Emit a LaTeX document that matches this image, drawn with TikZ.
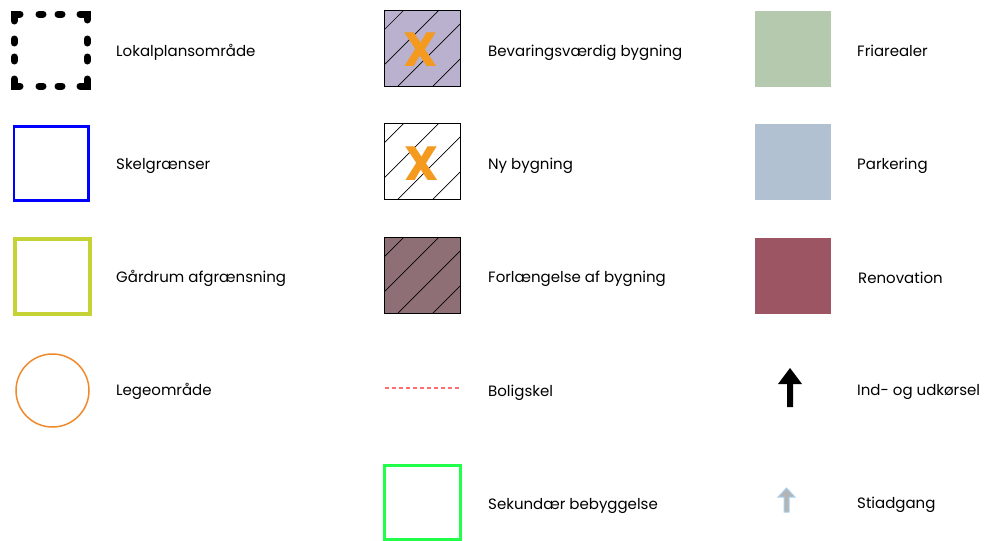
\documentclass[tikz,border=0pt]{standalone}
\usepackage{fontspec}
\setmainfont{Poppins}
\usepackage{tikz}
\usetikzlibrary{arrows.meta}

\definecolor{gaard}{HTML}{C5D336}
\definecolor{lege}{HTML}{F0892A}
\definecolor{lilla}{HTML}{B9B1CD}
\definecolor{brun}{HTML}{8F6F76}
\definecolor{kryds}{HTML}{F39A1F}
\definecolor{boligrod}{HTML}{FF6E6E}
\definecolor{sekgron}{HTML}{22FF4A}
\definecolor{friareal}{HTML}{B5C9AF}
\definecolor{parkering}{HTML}{B1C1D1}
\definecolor{renovation}{HTML}{9C5663}
\definecolor{stigra}{HTML}{B4B4B4}
\definecolor{stiblaa}{HTML}{A8D2F2}

\begin{document}
\begin{tikzpicture}[x=1pt,y=-1pt,
  lbl/.style={anchor=base west,inner sep=0pt,font=\fontsize{15}{18}\selectfont},
  xmark/.style={inner sep=0pt,text=kryds,font=\fontsize{48}{48}\selectfont\bfseries}]
\useasboundingbox (0,0) rectangle (986,541);

% kolonne 1
\draw[line width=7pt,line cap=round]
 (14,21)--(14,14)--(20,14) (39,14)--(43,14) (58,14)--(62,14)
 (80,14)--(87,14)--(87,20) (87,39)--(87,43) (87,57)--(87,61)
 (87,79)--(87,86)--(80,86) (62,86)--(58,86) (43,86)--(39,86)
 (20,86)--(14,86)--(14,79) (14,61)--(14,57) (14,43)--(14,39);
\draw[blue,line width=2.7pt](14,126.5)rectangle(88.5,200.5);
\draw[gaard,line width=3.3pt](15,239)rectangle(90,314);
\draw[lege,line width=1.5pt](52.5,390.5)circle[radius=36.5];

\node[lbl] (lokal) at (116,56) {Lokalplansområde};
\node[lbl] (skel) at (116,169) {Skelgrænser};
\node[lbl] (gaardrum) at (116,282) {Gårdrum afgrænsning};
\node[lbl] (legeomr) at (116,395) {Legeområde};

% kolonne 2
\foreach \t/\f in {10.5/lilla,123.5/white,237.5/brun}{
  \fill[\f](384.5,\t)rectangle++(76,76);
  \begin{scope}
    \clip(384.5,\t)rectangle++(76,76);
    \foreach \c in {19,54,89,124}
      \draw[line width=0.7pt](384.5+\c,\t)--++(-110,110);
  \end{scope}
  \draw[line width=1.3pt](384.5,\t)rectangle++(76,76);
}
\node[xmark] (x1) at (421,50) {X};
\node[xmark] (x2) at (421.5,163.5) {X};
\draw[boligrod,line width=1.3pt,dash pattern=on 4pt off 3pt](385,388)--(461,388);
\draw[sekgron,line width=3pt](384.5,465.5)rectangle(460.5,539.5);

\node[lbl] (bevar) at (488,56) {Bevaringsværdig bygning};
\node[lbl] (ny) at (488,169) {Ny bygning};
\node[lbl] (forl) at (488,282) {Forlængelse af bygning};
\node[lbl] (bolig) at (488,396) {Boligskel};
\node[lbl] (sekund) at (488,509) {Sekundær bebyggelse};

% kolonne 3
\fill[friareal](755,11)rectangle(831,87);
\fill[parkering](755,124)rectangle(831,200);
\fill[renovation](755,238)rectangle(831,314);
\fill(790,368)--(802,384)--(793,384)--(793,407)--(787,407)--(787,384)--(778,384)--cycle;
\filldraw[fill=stigra,draw=stiblaa,line width=1pt]
 (786.5,488)--(795,497)--(789,497)--(789,512)--(784,512)--(784,497)--(778,497)--cycle;

\node[lbl] (fri) at (857,56) {Friarealer};
\node[lbl] (park) at (857,169) {Parkering};
\node[lbl] (renov) at (858,283) {Renovation};
\node[lbl] (indud) at (857,395) {Ind- og udkørsel};
\node[lbl] (sti) at (857,508) {Stiadgang};
\end{tikzpicture}
\end{document}
